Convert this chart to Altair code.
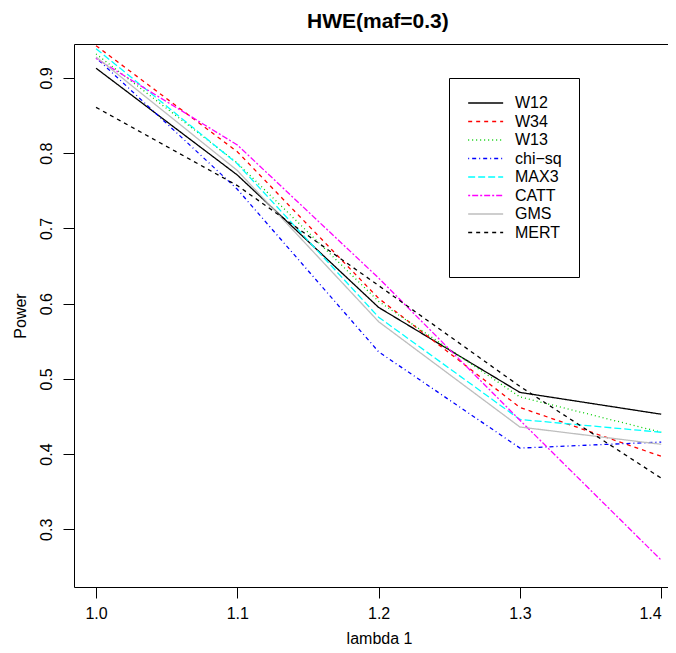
import altair as alt
import pandas as pd

lam = [1.0, 1.1, 1.2, 1.3, 1.4]

series_names = ["W12", "W34", "W13", "chi\u2212sq", "MAX3", "CATT", "GMS", "MERT"]
W12 = [0.913, 0.771, 0.595, 0.482, 0.453]
W34 = [0.943, 0.802, 0.607, 0.462, 0.397]
W13 = [0.932, 0.787, 0.603, 0.476, 0.429]
CHISQ = [0.927, 0.752, 0.536, 0.408, 0.416]
MAX3 = [0.939, 0.786, 0.582, 0.446, 0.429]
CATT = [0.926, 0.811, 0.634, 0.445, 0.259]
GMS = [0.928, 0.777, 0.576, 0.436, 0.413]
MERT = [0.861, 0.757, 0.624, 0.490, 0.368]

series_values = [W12, W34, W13, CHISQ, MAX3, CATT, GMS, MERT]
colors = ["#000000", "#FF0000", "#00CD00", "#0000FF", "#00FFFF", "#FF00FF", "#BEBEBE", "#000000"]
dashes = [[1, 0], [4, 4], [1, 3], [1, 3, 4, 3], [7, 3], [2, 2, 6, 2], [1, 0], [4, 4]]

y_ticks = [0.3, 0.4, 0.5, 0.6, 0.7, 0.8, 0.9]

rows = []
for order, (name, vals) in enumerate(zip(series_names, series_values)):
    for xv, yv in zip(lam, vals):
        rows.append({"series": name, "lambda": xv, "power": yv, "order": order})
df = pd.DataFrame(rows)

FONT = "Liberation Sans"

leg = alt.Legend(
    orient="none", legendX=375, legendY=34,
    title=" ", titleOrient="bottom", titleFontSize=12, titlePadding=8,
    symbolType="M-1,0H5", symbolSize=136, symbolStrokeWidth=1.3,
    labelFontSize=16, labelFont=FONT, labelColor="black", labelOffset=33,
    padding=17, strokeColor="black", fillColor="white", rowPadding=2.5,
)

xscale = alt.Scale(domain=[0.9844, 1.4048], nice=False, zero=False)
yscale = alt.Scale(domain=[0.2233, 0.9452], nice=False, zero=False)

base = alt.Chart(df)

lines = base.mark_line(strokeWidth=1.3).encode(
    x=alt.X("lambda:Q", scale=xscale,
            axis=alt.Axis(values=lam, format=".1f", orient="bottom", title="lambda 1",
                          tickSize=11, labelPadding=7, labelBaseline="top",
                          labelAlign={"condition": {"test": "datum.value >= 1.39", "value": "right"},
                                      "value": "center"},
                          titleX=305, titleY=56, titleBaseline="alphabetic", titleAlign="center",
                          labelFlush=False, labelOverlap=False)),
    y=alt.Y("power:Q", scale=yscale,
            axis=alt.Axis(values=y_ticks, format=".1f", orient="left", title="Power",
                          tickSize=11, labelPadding=12, labelAngle=-90,
                          labelAlign="center", labelBaseline="alphabetic",
                          titleAngle=-90, titleX=-49, titleY=271.5,
                          titleAlign="center", titleBaseline="alphabetic",
                          labelFlush=False, labelOverlap=False)),
    color=alt.Color("series:N", scale=alt.Scale(domain=series_names, range=colors), legend=leg),
    strokeDash=alt.StrokeDash("series:N", scale=alt.Scale(domain=series_names, range=dashes), legend=leg),
    order=alt.Order("order:Q"),
)

top_border = base.mark_line(strokeOpacity=0).encode(
    x=alt.X("lambda:Q", scale=xscale,
            axis=alt.Axis(orient="top", labels=False, ticks=False, title=None, domain=True)),
    y=alt.Y("power:Q", scale=yscale, axis=None),
    detail="series:N",
)

chart = alt.layer(lines, top_border).resolve_axis(x="independent", y="independent").properties(
    width=594, height=543,
    autosize=alt.AutoSizeParams(type="none"),
    padding={"left": 66, "top": 36, "right": 0, "bottom": 58},
    title=alt.Title("HWE(maf=0.3)", fontSize=21, fontWeight="bold", font=FONT,
                    anchor="start", frame="group", offset=0, baseline="alphabetic",
                    dx=233, dy=6, color="black"),
).configure_axis(
    labelFont=FONT, titleFont=FONT, labelFontSize=16, titleFontSize=16,
    titleFontWeight="normal", labelColor="black", titleColor="black",
    domainColor="black", tickColor="black", domainWidth=1, tickWidth=1, grid=False,
).configure_view(stroke="transparent")

chart.save("out.html", embed_options={"renderer": "svg", "actions": False})
